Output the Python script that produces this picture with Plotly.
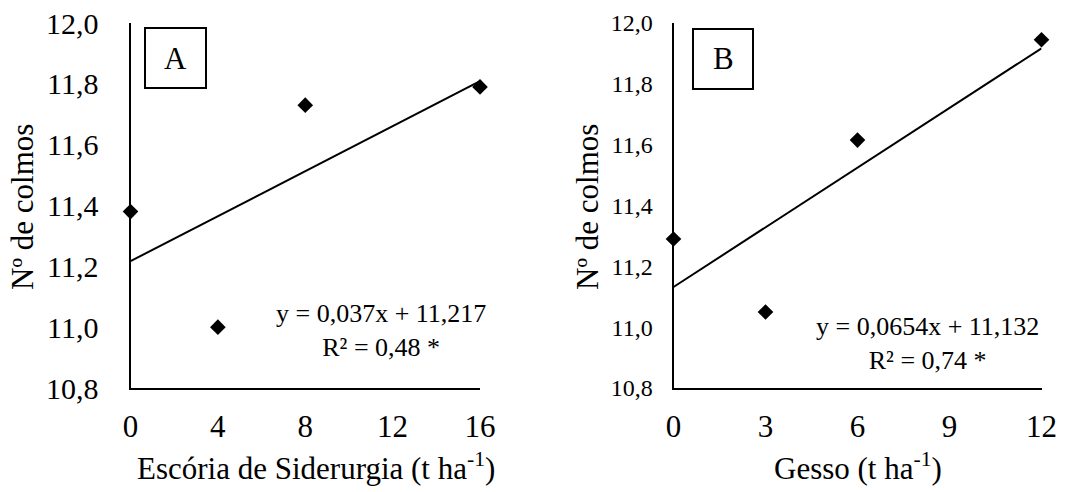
import plotly.graph_objects as go

# ---- data ----
escoria_x = [0, 4, 8, 16]
escoria_y = [11.38, 11.00, 11.73, 11.79]
escoria_slope = 0.037
escoria_intercept = 11.217
escoria_eq = "y = 0,037x + 11,217<br>R² = 0,48 *"

gesso_x = [0, 3, 6, 12]
gesso_y = [11.29, 11.05, 11.615, 11.945]
gesso_slope = 0.0654
gesso_intercept = 11.132
gesso_eq = "y = 0,0654x + 11,132<br>R² = 0,74 *"

y_ticks = [10.8, 11.0, 11.2, 11.4, 11.6, 11.8, 12.0]
escoria_ticks = [0, 4, 8, 12, 16]
gesso_ticks = [0, 3, 6, 9, 12]

W, H = 1083, 492
FONT = "Liberation Serif, Times New Roman, serif"

def px(x):
    return x / W

def py(y):
    return 1 - y / H

fig = go.Figure()

marker = dict(symbol="diamond", size=12, color="black")
line = dict(color="black", width=2)

fig.add_trace(go.Scatter(x=escoria_x, y=escoria_y, mode="markers", marker=marker,
                         cliponaxis=False, xaxis="x", yaxis="y", showlegend=False))
xa = [min(escoria_x), max(escoria_x)]
fig.add_trace(go.Scatter(x=xa, y=[escoria_slope * v + escoria_intercept for v in xa],
                         mode="lines", line=line, xaxis="x", yaxis="y", showlegend=False))

fig.add_trace(go.Scatter(x=gesso_x, y=gesso_y, mode="markers", marker=marker,
                         cliponaxis=False, xaxis="x2", yaxis="y2", showlegend=False))
xb = [min(gesso_x), max(gesso_x)]
fig.add_trace(go.Scatter(x=xb, y=[gesso_slope * v + gesso_intercept for v in xb],
                         mode="lines", line=line, xaxis="x2", yaxis="y2", showlegend=False))

ydom = [py(388), py(23)]
common_x = dict(showgrid=False, zeroline=False, showline=True, linecolor="black", linewidth=2,
                automargin=False, ticks="", ticklabelstandoff=10,
                tickfont=dict(family=FONT, size=31, color="black"))
common_y = dict(showgrid=False, zeroline=False, showline=True, linecolor="black", linewidth=2,
                automargin=False, ticks="", range=[10.8, 12.0], tickvals=y_ticks,
                tickformat=".1f")

fig.update_layout(
    width=W, height=H, autosize=False,
    margin=dict(l=0, r=0, t=0, b=0, pad=0),
    paper_bgcolor="white", plot_bgcolor="white",
    separators=",.",
    font=dict(family=FONT, color="black"),
    xaxis=dict(domain=[px(130.5), px(480)], range=[0, 16], tickvals=escoria_ticks,
               anchor="y", **common_x),
    yaxis=dict(domain=ydom, anchor="x", ticklabelstandoff=24,
               tickfont=dict(family=FONT, size=30, color="black"), **common_y),
    xaxis2=dict(domain=[px(673.5), px(1041.5)], range=[0, 12], tickvals=gesso_ticks,
                anchor="y2", **common_x),
    yaxis2=dict(domain=ydom, anchor="x2", ticklabelstandoff=14,
                tickfont=dict(family=FONT, size=24, color="black"), **common_y),
)

# panel label boxes
fig.add_shape(type="rect", xref="paper", yref="paper",
              x0=px(145), x1=px(206), y0=py(88), y1=py(28),
              line=dict(color="black", width=2), fillcolor="white")
fig.add_shape(type="rect", xref="paper", yref="paper",
              x0=px(693), x1=px(753), y0=py(89), y1=py(29),
              line=dict(color="black", width=2), fillcolor="white")

def note(text, x, y, size, angle=0):
    return dict(text=text, x=px(x), y=py(y), xref="paper", yref="paper",
                xanchor="center", yanchor="middle", showarrow=False, align="center",
                textangle=angle, font=dict(family=FONT, size=size, color="black"))

ann = [
    note("A", 175.5, 58, 31),
    note("B", 723, 59, 31),
    note(escoria_eq, 381, 330, 26),
    note(gesso_eq, 927, 343, 26),
    note("Escória de Siderurgia (t ha<sup>-1</sup>)", 316, 466, 31),
    note("Gesso (t ha<sup>-1</sup>)", 858, 466, 31),
    note("Nº de colmos", 23, 207, 31, -90),
    note("Nº de colmos", 588, 207, 31, -90),
]
fig.update_layout(annotations=ann)

fig.write_html("out.html")
